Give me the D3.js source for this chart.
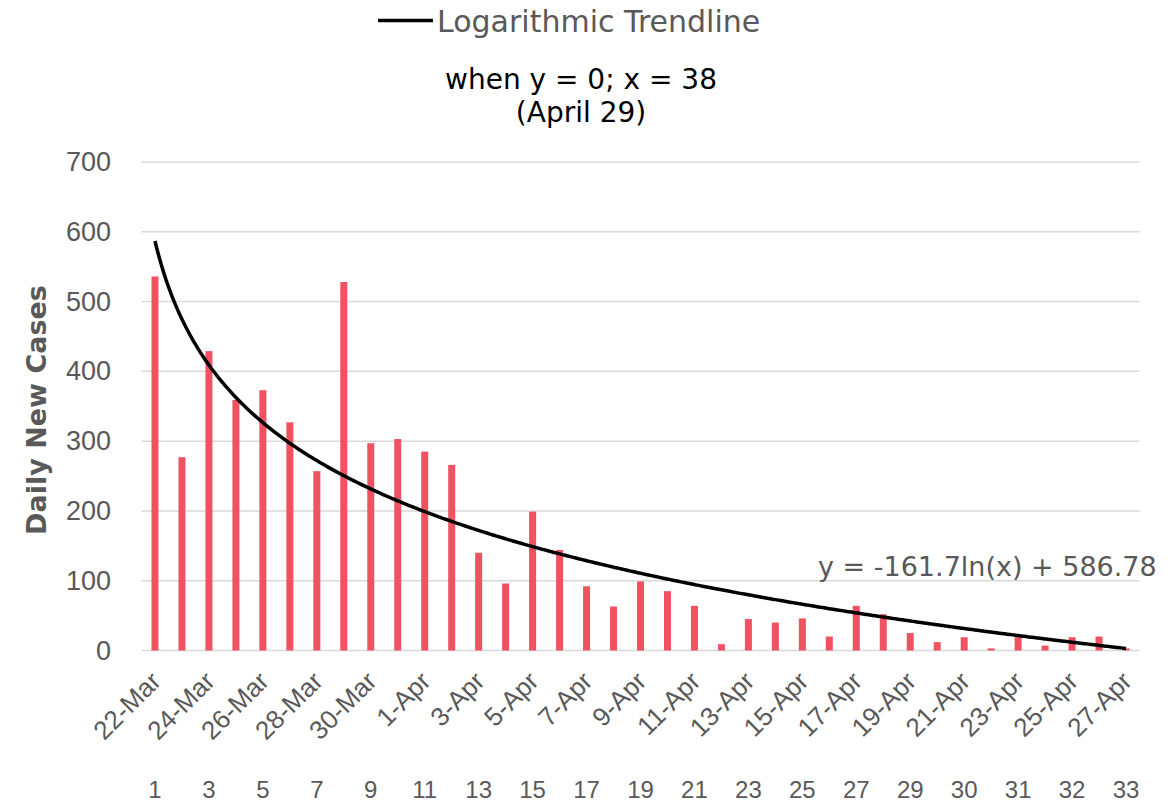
<!DOCTYPE html>
<html><head><meta charset="utf-8">
<script src="https://cdn.jsdelivr.net/npm/d3@7"></script>
<style>
html,body{margin:0;padding:0;background:#fff;}
svg{display:block;font-family:"Century Gothic","DejaVu Sans",sans-serif;}
</style></head>
<body><svg id="chart" width="1173" height="804"></svg>
<script>
const categories = ["22-Mar","23-Mar","24-Mar","25-Mar","26-Mar","27-Mar","28-Mar","29-Mar","30-Mar","31-Mar",
  "1-Apr","2-Apr","3-Apr","4-Apr","5-Apr","6-Apr","7-Apr","8-Apr","9-Apr","10-Apr",
  "11-Apr","12-Apr","13-Apr","14-Apr","15-Apr","16-Apr","17-Apr","18-Apr","19-Apr","20-Apr",
  "21-Apr","22-Apr","23-Apr","24-Apr","25-Apr","26-Apr","27-Apr"];
const dailyNewCases = [536,277,429,359,373,327,257,528,297,303,
  285,266,140,96,199,144,92,63,99,85,
  64,9,45,40,46,20,64,52,25,12,
  19,3,19,7,19,20,3];
const secondRowLabels = ["1","3","5","7","9","11","13","15","17","19","21","23","25","27","29","30","31","32","33"];
const yTicks = [0,100,200,300,400,500,600,700];
const trendCoef = [-161.7, 586.78]; // y = a*ln(x) + b
const legendLabel = "Logarithmic Trendline";
const titleLines = ["when y = 0; x = 38","(April 29)"];
const equationLabel = "y = -161.7ln(x) + 586.78";
const yTitle = "Daily New Cases";

const svg = d3.select("#chart");
const gray = "#595959";
const x = d3.scaleBand().domain(categories).range([141.5, 1139.5]).padding(0);
const y = d3.scaleLinear().domain([0, 700]).range([650.5, 162]);
const barW = 7;

// gridlines
svg.append("g").selectAll("line").data(yTicks).join("line")
  .attr("x1", 141.5).attr("x2", 1139.5)
  .attr("y1", d => y(d)).attr("y2", d => y(d))
  .attr("stroke", "#d9d9d9").attr("stroke-width", 1.5);

// y axis labels
const yAxis = d3.axisLeft(y).tickValues(yTicks).tickSize(0).tickPadding(0);
const gy = svg.append("g").attr("transform", "translate(111,0)").call(yAxis);
gy.select(".domain").remove();
gy.selectAll("text").attr("font-size", 27).attr("fill", gray).attr("font-family", null);

// bars
svg.append("g").selectAll("rect").data(dailyNewCases).join("rect")
  .attr("x", (d, i) => x(categories[i]) + x.bandwidth()/2 - barW/2)
  .attr("width", barW)
  .attr("y", d => y(d))
  .attr("height", d => y(0) - y(d))
  .attr("fill", "#ef5261");

// trendline
const trendPts = [];
for (let i = 0; i < categories.length; i++) {
  for (let k = 0; k < 10; k++) {
    const xi = i + 1 + k/10;
    if (xi > categories.length) break;
    trendPts.push(xi);
  }
}
const xIdx = d3.scaleLinear().domain([1, categories.length])
  .range([x(categories[0]) + x.bandwidth()/2, x(categories[categories.length-1]) + x.bandwidth()/2]);
svg.append("path").datum(trendPts)
  .attr("d", d3.line().x(v => xIdx(v)).y(v => y(trendCoef[0]*Math.log(v) + trendCoef[1])).curve(d3.curveMonotoneX))
  .attr("fill", "none").attr("stroke", "#000").attr("stroke-width", 3.5);

// x axis date labels (every other)
const dateTicks = categories.filter((c, i) => i % 2 === 0);
const gx = svg.append("g").attr("transform", "translate(0,650.5)")
  .call(d3.axisBottom(x).tickValues(dateTicks).tickSize(0).tickPadding(0));
gx.select(".domain").remove();
gx.selectAll("text")
  .attr("font-size", 26).attr("fill", gray).attr("font-family", null)
  .attr("text-anchor", "end").attr("y", 0).attr("dy", "0.35em")
  .attr("transform", "translate(1,26) rotate(-45)");

// second row labels
const gx2 = svg.append("g").attr("transform", "translate(0,798)")
  .call(d3.axisBottom(x).tickValues(dateTicks).tickSize(0).tickPadding(0)
    .tickFormat((d) => secondRowLabels[dateTicks.indexOf(d)]));
gx2.select(".domain").remove();
gx2.selectAll("text").attr("font-size", 24).attr("fill", gray).attr("font-family", null).attr("dy", 0).attr("y", 0);

// y title
svg.append("text").attr("transform", "translate(46,410) rotate(-90)")
  .attr("text-anchor", "middle").attr("font-size", 27).attr("font-weight", "bold")
  .attr("fill", gray).text(yTitle);

// legend
svg.append("line").attr("x1", 378).attr("x2", 433).attr("y1", 20.5).attr("y2", 20.5)
  .attr("stroke", "#000").attr("stroke-width", 3.5);
svg.append("text").attr("x", 437).attr("y", 32).attr("font-size", 30).attr("fill", gray).text(legendLabel);

// title
svg.append("g").selectAll("text").data(titleLines).join("text")
  .attr("x", 581).attr("y", (d, i) => 89 + i*33)
  .attr("text-anchor", "middle").attr("font-size", 28).attr("fill", "#000").text(d => d);

// equation
svg.append("text").attr("x", 818).attr("y", 576).attr("font-size", 27).attr("fill", gray).text(equationLabel);
</script></body></html>
